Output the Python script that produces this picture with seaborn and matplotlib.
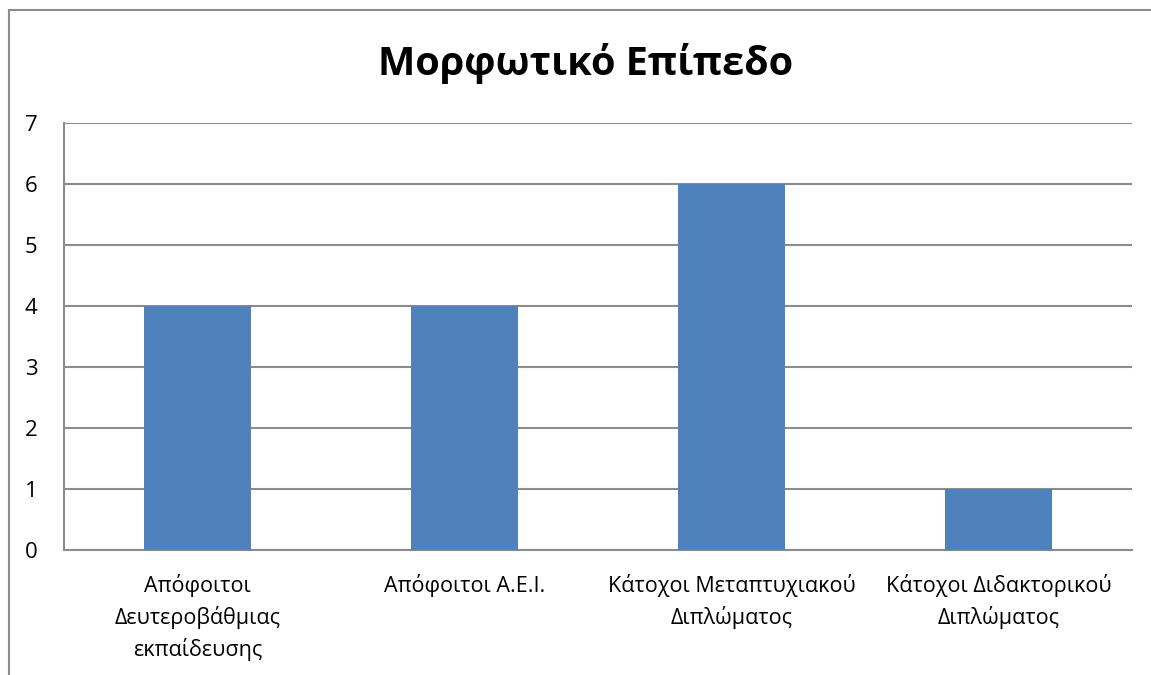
import matplotlib.pyplot as plt
import matplotlib.patches as patches
import pandas as pd
import seaborn as sns

# Data
categories = ["Απόφοιτοι\nΔευτεροβάθμιας\nεκπαίδευσης",
              "Απόφοιτοι Α.Ε.Ι.",
              "Κάτοχοι Μεταπτυχιακού\nΔιπλώματος",
              "Κάτοχοι Διδακτορικού\nΔιπλώματος"]
counts = [4, 4, 6, 1]
y_ticks = [0, 1, 2, 3, 4, 5, 6, 7]

df = pd.DataFrame({"category": categories, "count": counts})

sns.set_style("white")
plt.rcParams['font.family'] = ['Open Sans', 'DejaVu Sans']
plt.rcParams['text.color'] = 'black'
plt.rcParams['xtick.color'] = 'black'
plt.rcParams['ytick.color'] = 'black'

grid_color = "#8c8c8c"

fig = plt.figure(figsize=(11.51, 6.75), dpi=100)
ax = fig.add_axes([64 / 1151, 1 - 550 / 675, (1132 - 64) / 1151, (550 - 123) / 675])

sns.barplot(data=df, x="category", y="count", color="#4F81BD", width=0.4,
            saturation=1, linewidth=0, ax=ax, zorder=3)

ax.set_xlim(-0.5, len(categories) - 0.5)
ax.set_ylim(0, 7)
ax.set_yticks(y_ticks)
ax.set_xlabel("")
ax.set_ylabel("")

# Gridlines
ax.yaxis.grid(True, color=grid_color, linewidth=1.5)
ax.set_axisbelow(True)

for side in ["top", "right"]:
    ax.spines[side].set_visible(False)
for side in ["left", "bottom"]:
    ax.spines[side].set_color(grid_color)
    ax.spines[side].set_linewidth(1.5)

# Category labels centred, tick marks between categories
ax.set_xticks(range(len(categories)))
ax.set_xticklabels(categories, fontsize=15.5, linespacing=1.5)
ax.tick_params(axis="x", length=0, pad=17)
ax.set_xticks([i - 0.5 for i in range(len(categories) + 1)], minor=True)
ax.tick_params(axis="x", which="minor", length=8, width=1.5, color=grid_color, direction="out")
ax.tick_params(axis="y", length=7, width=1.5, color=grid_color, labelcolor="black",
               direction="out", labelsize=16, pad=12)

fig.text(0.509, 1 - 63 / 675, "Μορφωτικό Επίπεδο", ha="center", va="center",
         fontsize=28.5, fontweight="bold", color="black")

# Chart area border (extends past right and bottom edges like the reference)
border = patches.Rectangle((9 / 1151, -0.1), 1.2, 1.1 - 10 / 675,
                           transform=fig.transFigure, fill=False,
                           edgecolor=grid_color, linewidth=1.5)
fig.patches.append(border)

fig.savefig("out.png", dpi=100)
